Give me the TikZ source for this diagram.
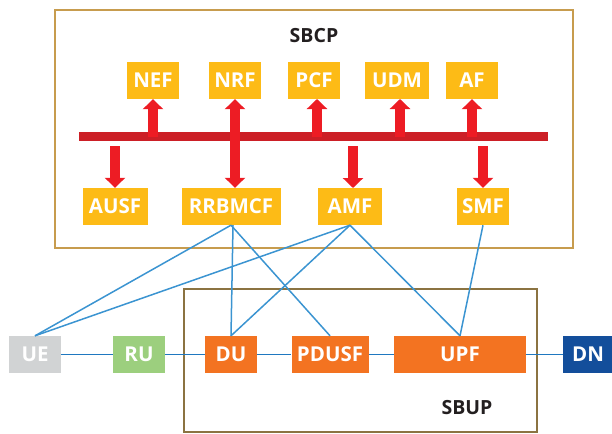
\documentclass[tikz,border=0pt]{standalone}
\usepackage{fontspec}
\setmainfont{Open Sans}
\usetikzlibrary{arrows.meta}
\definecolor{nfyellow}{HTML}{FDBB16}
\definecolor{upOrange}{HTML}{F37321}
\definecolor{ueGray}{HTML}{D1D3D4}
\definecolor{ruGreen}{HTML}{9CCF7E}
\definecolor{dnBlue}{HTML}{134E9B}
\definecolor{linkBlue}{HTML}{3B94D1}
\definecolor{chainBlue}{HTML}{1F78C0}
\definecolor{arrowRed}{HTML}{ED1C24}
\definecolor{busRed}{HTML}{CC1F26}
\definecolor{cpBorder}{HTML}{C79C4E}
\definecolor{upBorder}{HTML}{8B7341}
\definecolor{titleInk}{HTML}{231F20}
\tikzset{
  fnbox/.style={inner sep=0pt, minimum height=37pt, text=white,
    font=\bfseries\fontsize{20.5}{21}\selectfont},
  cpbox/.style={fnbox, fill=nfyellow},
  upbox/.style={fnbox, fill=upOrange},
  frame/.style={line width=1.6pt},
  title/.style={text=titleInk, font=\bfseries\fontsize{19.5}{20}\selectfont},
  busarrow/.style={arrowRed, line width=10pt,
    -{Triangle[width=20pt,length=10pt]}},
  busdouble/.style={arrowRed, line width=10pt,
    {Triangle[width=20pt,length=10pt]}-{Triangle[width=20pt,length=10pt]}},
  link/.style={linkBlue, line width=1.5pt},
  chain/.style={chainBlue, line width=1.9pt},
}
\begin{document}
\begin{tikzpicture}[x=1pt,y=-1pt]
\useasboundingbox (0,0) rectangle (612,433);

% service-based control plane
\draw[frame, cpBorder] (55,10) rectangle (573,248);
\node[title] (sbcp) at (314,36) {SBCP};

\node[cpbox, minimum width=52pt] (nef) at (153,80.5) {NEF};
\node[cpbox, minimum width=52pt] (nrf) at (235,80.5) {NRF};
\node[cpbox, minimum width=52pt] (pcf) at (314,80.5) {PCF};
\node[cpbox, minimum width=64pt] (udm) at (397,80.5) {UDM};
\node[cpbox, minimum width=52pt] (af)  at (472,80.5) {AF};

\node[cpbox, minimum width=65pt] (ausf)   at (115,206.5) {AUSF};
\node[cpbox, minimum width=99pt] (rrbmcf) at (231,206.5) {RRBMCF};
\node[cpbox, minimum width=64pt] (amf)    at (350,206.5) {AMF};
\node[cpbox, minimum width=52pt] (smf)    at (483,206.5) {SMF};

% service bus
\coordinate (busL) at (79,136.5);
\coordinate (busR) at (548,136.5);
\draw[busRed, line width=9pt] (busL) -- (busR);

\draw[busarrow] (nef.south |- busL) -- (nef.south);
\draw[busarrow] (317,136.5) -- (317,99);
\draw[busarrow] (400,136.5) -- (400,99);
\draw[busarrow] (af.south |- busL) -- (af.south);
\draw[busdouble] (nrf.south) -- (nrf.south |- rrbmcf.north);

\draw[busarrow] (115,146) -- (ausf.north);
\draw[busarrow] (353,146) -- (353,188);
\draw[busarrow] (smf.north |- 0,146) -- (smf.north);

% service-based user plane
\draw[frame, upBorder] (184,289) rectangle (537,432);
\node[title] (sbup) at (467,408) {SBUP};

\node[fnbox, fill=ueGray,  minimum width=52pt] (ue) at (35,354.5) {UE};
\node[fnbox, fill=ruGreen, minimum width=52pt] (ru) at (139,354.5) {RU};
\node[upbox, minimum width=52pt]  (du)    at (231,354.5) {DU};
\node[upbox, minimum width=77pt]  (pdusf) at (330,354.5) {PDUSF};
\node[upbox, minimum width=132pt] (upf)   at (460,354.5) {UPF};
\node[fnbox, fill=dnBlue, minimum width=50pt] (dn) at (588,354.5) {DN};

% user-plane chain
\draw[chain] (ue) -- (ru);
\draw[chain] (ru) -- (du);
\draw[chain] (du) -- (pdusf);
\draw[chain] (pdusf) -- (upf);
\draw[chain] (upf) -- (dn);

% control-plane associations
\draw[link] (ue.north) -- (rrbmcf.south);
\draw[link] (ue.north) -- (amf.south);
\draw[link] ([xshift=2pt]rrbmcf.south) -- (du.north);
\draw[link] (rrbmcf.south) -- (pdusf.north);
\draw[link] (amf.south) -- (du.north);
\draw[link] (amf.south) -- (upf.north);
\draw[link] (smf.south) -- (upf.north);
\end{tikzpicture}
\end{document}
